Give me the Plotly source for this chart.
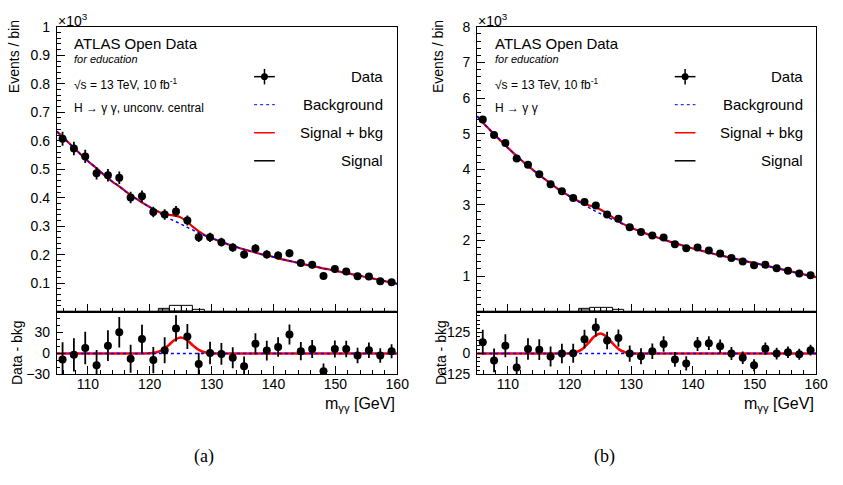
import numpy as np
import plotly.graph_objects as go

# ---------------- data ----------------
bin_centers = [105.917, 107.750, 109.583, 111.417, 113.250, 115.083, 116.917, 118.750,
               120.583, 122.417, 124.250, 126.083, 127.917, 129.750, 131.583, 133.417,
               135.250, 137.083, 138.917, 140.750, 142.583, 144.417, 146.250, 148.083,
               149.917, 151.750, 153.583, 155.417, 157.250, 159.083]
bin_width = (160 - 105) / 30

# (a) unconverted central  -- events / bin in units of 10^3
data_a = [0.607, 0.573, 0.545, 0.486, 0.479, 0.470, 0.401, 0.405, 0.350, 0.341,
          0.352, 0.320, 0.261, 0.261, 0.244, 0.225, 0.201, 0.222, 0.201, 0.197,
          0.205, 0.171, 0.165, 0.125, 0.150, 0.141, 0.124, 0.123, 0.107, 0.103]
resid_a = [-8.4, -1.9, 8, -16.9, 11.3, 30.5, -7.5, 21, -9.4, 4.7,
           36, 24.4, -15, 0.9, -0.5, -6.1, -18.3, 14, 4.2, 9.4,
           27.2, 3.3, 6.6, -25.3, 6.6, 6.6, -2.8, 4.7, -2.8, 3.3]

# (b) inclusive
data_b = [5.40, 4.96, 4.74, 4.30, 4.125, 3.86, 3.58, 3.38, 3.19, 3.08,
          2.98, 2.73, 2.61, 2.37, 2.24, 2.14, 2.08, 1.89, 1.78, 1.80,
          1.72, 1.63, 1.51, 1.41, 1.30, 1.32, 1.22, 1.15, 1.07, 1.02]
resid_b = [68, -41, 47, -84, 27, 23, -18, 0, 2, 86,
           156, 78, 92, 0, -16, 14, 57, -35, -59, 57,
           62, 43, 0, -25, -70, 29, 0, 8, -4, 20]

# fitted curves read at 1 GeV steps
curve_x = list(range(105, 161))
bkg_a = [0.632, 0.613, 0.591, 0.570, 0.549, 0.529, 0.511, 0.492, 0.473, 0.456,
         0.441, 0.424, 0.408, 0.394, 0.380, 0.367, 0.354, 0.341, 0.329, 0.318,
         0.308, 0.297, 0.286, 0.276, 0.266, 0.258, 0.250, 0.242, 0.234, 0.227,
         0.220, 0.214, 0.208, 0.202, 0.197, 0.192, 0.186, 0.181, 0.176, 0.171,
         0.166, 0.161, 0.157, 0.152, 0.148, 0.143, 0.139, 0.135, 0.130, 0.126,
         0.121, 0.117, 0.112, 0.107, 0.102, 0.098]
bkg_b = [5.49, 5.30, 5.12, 4.94, 4.77, 4.60, 4.44, 4.28, 4.13, 3.99,
         3.85, 3.72, 3.59, 3.46, 3.35, 3.24, 3.135, 3.035, 2.935, 2.84,
         2.75, 2.665, 2.585, 2.505, 2.43, 2.355, 2.285, 2.22, 2.155, 2.095,
         2.035, 1.98, 1.925, 1.875, 1.825, 1.775, 1.73, 1.685, 1.64, 1.60,
         1.56, 1.52, 1.48, 1.44, 1.40, 1.365, 1.325, 1.285, 1.245, 1.205,
         1.165, 1.125, 1.085, 1.045, 1.005, 0.97]
# signal component (events / bin)
sig_a = [0] * 14 + [0.05, 0.3, 1.4, 4.8, 11.5, 19.3, 23, 19.3, 11.5, 4.8, 1.4, 0.3, 0.05] + [0] * 29
sig_b = [0] * 14 + [0.2, 1.6, 7.5, 25, 60, 101, 120, 101, 60, 25, 7.5, 1.6, 0.2] + [0] * 29

# signal histograms at the bottom of the main pads (units of 10^3)
sigfill_a = [0] * 9 + [0.010, 0.004, 0.004, 0.002] + [0] * 17
sighist_a = [0] * 9 + [0.011, 0.022, 0.021, 0.008] + [0] * 17
sigfill_b = [0] * 9 + [0.075, 0.030, 0.030, 0.020] + [0] * 17
sighist_b = [0] * 9 + [0.085, 0.120, 0.115, 0.060] + [0] * 17

# ---------------- layout helpers ----------------
W, H = 843, 485
def px(x):
    return x / W
def py(y):
    return 1 - y / H

FONT = "Liberation Sans, Arial, sans-serif"
panels = {
    "a": dict(x0=57.7, x1=403.0),
    "b": dict(x0=484.0, x1=828.0),
}
MAIN_TOP, MAIN_BOT, RAT_BOT = 19.5, 314.0, 379.0

fig = go.Figure()

def add_panel(idx, data, resid, bkg, sig, sigfill, sighist):
    xm, ym = f"x{2*idx-1 if idx>1 else ''}", f"y{2*idx-1 if idx>1 else ''}"
    xr, yr = f"x{2*idx}", f"y{2*idx}"
    d = np.array(data)
    err = np.sqrt(d * 1000.0)  # Poisson uncertainty (events)
    bkg = np.array(bkg)
    sig = np.array(sig)
    # signal histograms
    fig.add_trace(go.Bar(x=bin_centers, y=sigfill, width=bin_width, marker=dict(color="#7a7a7a", line=dict(width=0)),
                         xaxis=xm, yaxis=ym, showlegend=False))
    fig.add_trace(go.Bar(x=bin_centers, y=sighist, width=bin_width,
                         marker=dict(color="rgba(0,0,0,0)", line=dict(color="black", width=1)),
                         xaxis=xm, yaxis=ym, showlegend=False))
    # signal + bkg
    fig.add_trace(go.Scatter(x=curve_x, y=bkg + sig / 1000.0, mode="lines",
                             line=dict(color="#e00000", width=2.2, shape="spline"),
                             xaxis=xm, yaxis=ym, showlegend=False))
    # background
    fig.add_trace(go.Scatter(x=curve_x, y=bkg, mode="lines",
                             line=dict(color="#0000ff", width=1.4, dash="dot", shape="spline"),
                             xaxis=xm, yaxis=ym, showlegend=False))
    # data
    fig.add_trace(go.Scatter(x=bin_centers, y=d, mode="markers",
                             marker=dict(color="black", size=8),
                             error_y=dict(type="data", array=err / 1000.0, thickness=1.8, width=0, color="black"),
                             xaxis=xm, yaxis=ym, showlegend=False))
    # ratio pad
    fig.add_trace(go.Scatter(x=curve_x, y=sig, mode="lines",
                             line=dict(color="#ff0000", width=2.5, shape="spline"),
                             xaxis=xr, yaxis=yr, showlegend=False))
    fig.add_trace(go.Scatter(x=curve_x, y=bkg - bkg, mode="lines",
                             line=dict(color="#0000ff", width=1.4, dash="dot"),
                             xaxis=xr, yaxis=yr, showlegend=False))
    fig.add_trace(go.Scatter(x=bin_centers, y=resid, mode="markers",
                             marker=dict(color="black", size=8),
                             error_y=dict(type="data", array=err, thickness=1.8, width=0, color="black"),
                             xaxis=xr, yaxis=yr, showlegend=False))

add_panel(1, data_a, resid_a, bkg_a, sig_a, sigfill_a, sighist_a)
add_panel(2, data_b, resid_b, bkg_b, sig_b, sigfill_b, sighist_b)

axis_common = dict(showline=True, linecolor="black", linewidth=1, mirror=True,
                   ticks="inside", ticklen=8, tickwidth=1, tickcolor="black",
                   showgrid=False, zeroline=False,
                   tickfont=dict(family=FONT, size=14, color="black"))

def xaxis(panel, anchor, labels):
    p = panels[panel]
    return dict(axis_common, domain=[px(p["x0"]), px(p["x1"])], range=[105, 160], anchor=anchor,
                tickmode="linear", tick0=110, dtick=10, showticklabels=labels, ticklabelstandoff=-3,
                minor=dict(ticks="inside", ticklen=4, dtick=2, tick0=110, tickcolor="black"))

ya_vals = [0.1, 0.2, 0.3, 0.4, 0.5, 0.6, 0.7, 0.8, 0.9, 1.0]
ya_text = ["0.1", "0.2", "0.3", "0.4", "0.5", "0.6", "0.7", "0.8", "0.9", "1"]
yb_vals = [1, 2, 3, 4, 5, 6, 7, 8]
yb_text = ["1", "2", "3", "4", "5", "6", "7", "8"]

main_dom = [py(MAIN_BOT), py(MAIN_TOP)]
rat_dom = [py(RAT_BOT), py(MAIN_BOT)]

fig.update_layout(
    width=W, height=H, autosize=False,
    margin=dict(l=0, r=0, t=0, b=0),
    paper_bgcolor="white", plot_bgcolor="white",
    barmode="overlay", bargap=0,
    font=dict(family=FONT, color="black"),
    xaxis=xaxis("a", "y", False),
    yaxis=dict(axis_common, domain=main_dom, range=[0, 1.0], anchor="x",
               tickmode="array", tickvals=ya_vals, ticktext=ya_text, ticklabelstandoff=3,
               minor=dict(ticks="inside", ticklen=4, dtick=0.02, tick0=0, tickcolor="black")),
    xaxis2=xaxis("a", "y2", True),
    yaxis2=dict(axis_common, domain=rat_dom, range=[-30, 60], anchor="x2",
                tickmode="array", tickvals=[-30, 0, 30], ticklen=6, ticklabelstandoff=3,
                minor=dict(ticks="inside", ticklen=3, dtick=10, tick0=0, tickcolor="black")),
    xaxis3=xaxis("b", "y3", False),
    yaxis3=dict(axis_common, domain=main_dom, range=[0, 8.0], anchor="x3",
                tickmode="array", tickvals=yb_vals, ticktext=yb_text, ticklabelstandoff=3,
                minor=dict(ticks="inside", ticklen=4, dtick=0.2, tick0=0, tickcolor="black")),
    xaxis4=xaxis("b", "y4", True),
    yaxis4=dict(axis_common, domain=rat_dom, range=[-125, 250], anchor="x4",
                tickmode="array", tickvals=[-125, 0, 125], ticklen=6, ticklabelstandoff=3,
                minor=dict(ticks="inside", ticklen=3, dtick=25, tick0=0, tickcolor="black")),
)

ann = []
shapes = []
def text(x, y, s, size=14, xanchor="left", yanchor="middle", angle=0, family=FONT, italic=False):
    if italic:
        s = f"<i>{s}</i>"
    ann.append(dict(x=px(x), y=py(y), xref="paper", yref="paper", text=s, showarrow=False,
                    xanchor=xanchor, yanchor=yanchor, textangle=angle,
                    font=dict(family=family, size=size, color="black")))

for key, label2, lx0, mx, tx in (("a", "H → γ γ, unconv. central", 73, 268.3, 391),
                                  ("b", "H → γ γ", 500, 695, 817)):
    p = panels[key]
    text(p["x0"] - 1, 12, "×10<sup>3</sup>", size=14)
    text(lx0, 37, "ATLAS Open Data", size=15)
    text(lx0, 53, "for education", size=11, italic=True)
    text(lx0, 79, "√s = 13 TeV, 10 fb<sup>-1</sup>", size=12)
    text(lx0, 103, label2, size=12)
    # legend
    for yy, s in ((71, "Data"), (100, "Background"), (129, "Signal + bkg"), (158, "Signal")):
        text(tx, yy, s, size=15, xanchor="right")
    shapes.append(dict(type="line", xref="paper", yref="paper", x0=px(mx - 10.5), x1=px(mx + 10.5),
                       y0=py(71), y1=py(71), line=dict(color="black", width=1.5)))
    shapes.append(dict(type="line", xref="paper", yref="paper", x0=px(mx), x1=px(mx),
                       y0=py(63), y1=py(79), line=dict(color="black", width=1.5)))
    shapes.append(dict(type="circle", xref="paper", yref="paper", x0=px(mx - 3.5), x1=px(mx + 3.5),
                       y0=py(74.5), y1=py(67.5), fillcolor="black", line=dict(color="black", width=0)))
    shapes.append(dict(type="line", xref="paper", yref="paper", x0=px(mx - 10.5), x1=px(mx + 10.5),
                       y0=py(100), y1=py(100), line=dict(color="#0000ff", width=1, dash="dot")))
    shapes.append(dict(type="line", xref="paper", yref="paper", x0=px(mx - 10.5), x1=px(mx + 10.5),
                       y0=py(129), y1=py(129), line=dict(color="#ff0000", width=1.5)))
    shapes.append(dict(type="line", xref="paper", yref="paper", x0=px(mx - 10.5), x1=px(mx + 10.5),
                       y0=py(158), y1=py(158), line=dict(color="black", width=1.5)))
    # axis titles
    ytx = 15 if key == "a" else 445
    text(ytx, 50, "Events / bin", size=14, xanchor="center", angle=-90)
    text(ytx + 3, 356, "Data - bkg", size=14, xanchor="center", angle=-90)
    text(p["x1"], 410, "m<sub>γγ</sub> [GeV]", size=16, xanchor="right")

text(207, 464, "(a)", size=18, xanchor="center", family="Liberation Serif, Times New Roman, serif")
text(613, 464, "(b)", size=18, xanchor="center", family="Liberation Serif, Times New Roman, serif")

fig.update_layout(annotations=ann, shapes=shapes)
fig.write_html("out.html")
